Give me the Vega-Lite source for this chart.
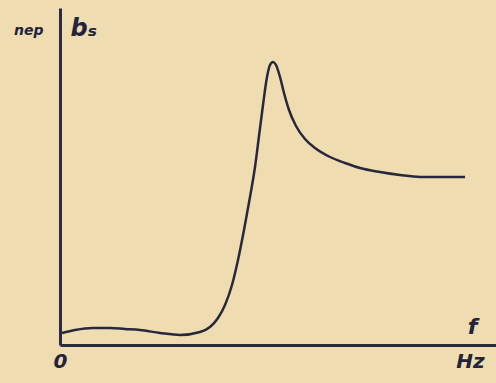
{
  "$schema": "https://vega.github.io/schema/vega-lite/v6.json",
  "width": 436,
  "height": 337,
  "autosize": {"type": "none"},
  "padding": {"left": 60, "top": 8, "right": 0, "bottom": 38},
  "background": "#efdcb0",
  "config": {"view": {"stroke": null}},
  "data": {"values": [
    {"f": 2, "b": 12}, {"f": 15, "b": 15}, {"f": 33, "b": 17}, {"f": 50, "b": 17},
    {"f": 65, "b": 16}, {"f": 80, "b": 15}, {"f": 100, "b": 12}, {"f": 120, "b": 10},
    {"f": 140, "b": 13}, {"f": 150, "b": 18}, {"f": 158, "b": 27}, {"f": 165, "b": 40},
    {"f": 172, "b": 60}, {"f": 178, "b": 85}, {"f": 184, "b": 115}, {"f": 190, "b": 148},
    {"f": 195, "b": 178}, {"f": 199, "b": 209}, {"f": 203, "b": 240}, {"f": 207, "b": 268},
    {"f": 210, "b": 280}, {"f": 213, "b": 283}, {"f": 216, "b": 280}, {"f": 220, "b": 268},
    {"f": 224, "b": 252}, {"f": 229, "b": 235}, {"f": 236, "b": 219}, {"f": 245, "b": 206},
    {"f": 255, "b": 197}, {"f": 270, "b": 188}, {"f": 285, "b": 182}, {"f": 300, "b": 177},
    {"f": 320, "b": 173}, {"f": 340, "b": 170}, {"f": 360, "b": 168}, {"f": 385, "b": 168},
    {"f": 405, "b": 168}
  ]},
  "mark": {"type": "line", "interpolate": "monotone", "color": "#27283d", "strokeWidth": 2.5},
  "encoding": {
    "x": {
      "field": "f", "type": "quantitative",
      "scale": {"domain": [0, 436], "nice": false},
      "axis": {
        "values": [0, 410],
        "labelExpr": "datum.value == 0 ? '0' : 'Hz'",
        "labelFont": "DejaVu Sans", "labelFontStyle": "italic", "labelFontWeight": "bold",
        "labelFontSize": 20, "labelColor": "#23233a", "labelPadding": 6,
        "labelAlign": "center", "labelFlush": false,
        "ticks": false, "grid": false,
        "domainColor": "#2a2a40", "domainWidth": 3,
        "title": "f",
        "titleFont": "DejaVu Sans", "titleFontStyle": "italic", "titleFontWeight": "bold",
        "titleFontSize": 22, "titleColor": "#23233a",
        "titleX": 412, "titleY": -12, "titleAlign": "center", "titleBaseline": "alphabetic"
      }
    },
    "y": {
      "field": "b", "type": "quantitative",
      "scale": {"domain": [0, 337], "nice": false},
      "axis": {
        "values": [315],
        "labelExpr": "'nep'",
        "labelFont": "DejaVu Sans", "labelFontStyle": "italic", "labelFontWeight": "bold",
        "labelFontSize": 14, "labelColor": "#23233a", "labelPadding": 17,
        "labelBaseline": "middle",
        "ticks": false, "grid": false,
        "domainColor": "#2a2a40", "domainWidth": 3,
        "title": "bₛ",
        "titleFont": "DejaVu Sans", "titleFontStyle": "italic", "titleFontWeight": "bold",
        "titleFontSize": 24, "titleColor": "#23233a",
        "titleAngle": 0, "titleX": 10, "titleY": 27, "titleAlign": "left", "titleBaseline": "alphabetic"
      }
    }
  }
}
